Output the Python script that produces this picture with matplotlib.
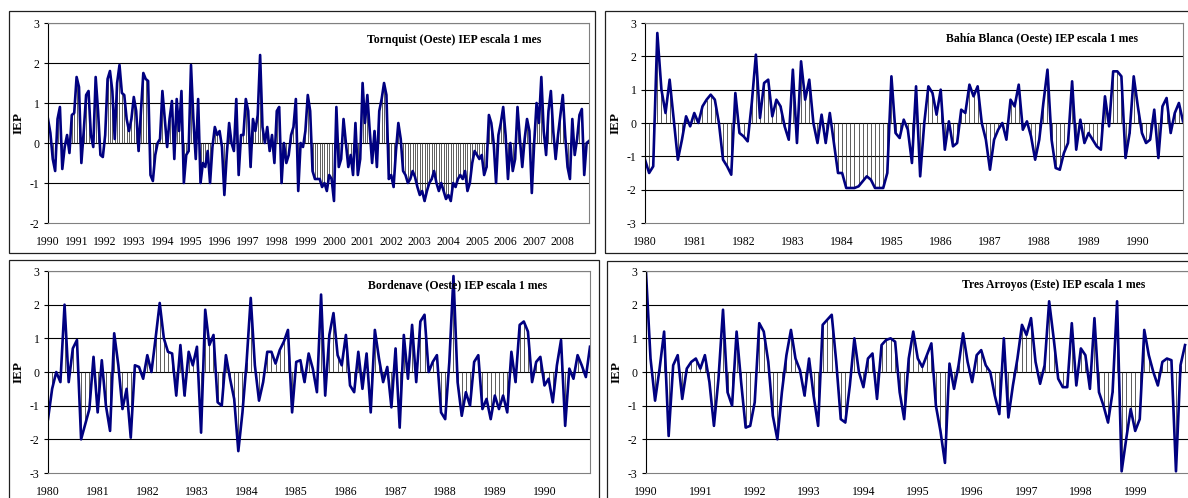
import numpy as np
import matplotlib
matplotlib.use("Agg")
import matplotlib.pyplot as plt
from matplotlib.patches import Rectangle

plt.rcParams['font.family'] = ['Liberation Serif', 'DejaVu Serif']
plt.rcParams['axes.unicode_minus'] = False

W, H = 1188, 498

# IEP escala 1 mes, valores mensuales (ene-dic por fila)
tornquist = [
    0.6, 0.25, -0.4, -0.7, 0.6, 0.9, -0.65, -0.1, 0.2, -0.25, 0.7, 0.75,      # 1990
    1.65, 1.4, -0.5, 0.3, 1.2, 1.3, 0.2, -0.1, 1.65, 0.8, -0.3, -0.35,        # 1991
    0.2, 1.6, 1.8, 1.3, 0.1, 1.5, 1.95, 1.25, 1.2, 0.6, 0.3, 0.6,             # 1992
    1.15, 0.8, -0.2, 0.8, 1.75, 1.6, 1.55, -0.8, -0.95, -0.3, 0.0, 0.1,       # 1993
    1.3, 0.6, -0.1, 0.6, 1.05, -0.4, 1.1, 0.3, 1.3, -1.0, -0.3, -0.2,         # 1994
    1.95, 0.6, -0.4, 1.1, -1.0, -0.5, -0.6, -0.2, -1.0, -0.1, 0.4, 0.2,       # 1995
    0.3, -0.1, -1.3, -0.3, 0.5, 0.0, -0.2, 1.1, -0.8, 0.2, 0.2, 1.1,          # 1996
    0.8, -0.6, 0.6, 0.3, 0.7, 2.2, 0.4, 0.0, 0.4, -0.2, 0.2, -0.5,            # 1997
    0.8, 0.9, -1.0, 0.0, -0.5, -0.3, 0.2, 0.4, 1.1, -1.2, 0.0, -0.1,          # 1998
    0.3, 1.2, 0.8, -0.7, -0.9, -0.9, -0.9, -1.1, -1.0, -1.2, -0.8, -0.9,      # 1999
    -1.45, 0.9, -0.6, -0.4, 0.6, 0.0, -0.6, -0.3, -0.8, 0.5, -0.8, -0.4,      # 2000
    1.5, 0.5, 1.2, 0.3, -0.5, 0.3, -0.6, 0.8, 1.1, 1.5, 1.2, -0.9,            # 2001
    -0.8, -1.1, -0.2, 0.5, 0.1, -0.7, -0.8, -1.0, -0.9, -0.7, -0.85, -1.1,    # 2002
    -1.3, -1.2, -1.45, -1.2, -1.0, -0.9, -0.7, -1.0, -1.2, -1.0, -1.2, -1.4,  # 2003
    -1.3, -1.45, -1.0, -1.1, -0.9, -0.8, -0.9, -0.7, -1.2, -1.0, -0.5, -0.2,  # 2004
    -0.3, -0.4, -0.3, -0.8, -0.6, 0.7, 0.5, 0.0, -1.0, 0.2, 0.5, 0.9,         # 2005
    0.2, -0.9, 0.0, -0.7, -0.4, 0.9, 0.1, -0.6, 0.1, 0.6, 0.3, -1.25,         # 2006
    0.0, 1.0, 0.5, 1.65, 0.3, -0.3, 0.8, 1.3, 0.3, -0.4, 0.2, 0.7,           # 2007
    1.2, 0.2, -0.6, -0.9, 0.6, -0.3, 0.1, 0.7, 0.85, -0.8, 0.0, 0.05,         # 2008
]

bahia_blanca = [
    -1.1, -1.5, -1.3, 2.7, 1.0, 0.3, 1.3, 0.1, -1.1, -0.5, 0.2, -0.1,         # 1980
    0.3, 0.0, 0.5, 0.7, 0.85, 0.7, 0.0, -1.1, -1.3, -1.55, 0.9, -0.3,         # 1981
    -0.4, -0.55, 0.6, 2.05, 0.15, 1.2, 1.3, 0.2, 0.7, 0.5, -0.1, -0.5,        # 1982
    1.6, -0.6, 1.85, 0.7, 1.3, 0.0, -0.6, 0.25, -0.6, 0.3, -0.6, -1.5,        # 1983
    -1.5, -1.95, -1.95, -1.95, -1.9, -1.75, -1.6, -1.7, -1.95, -1.95, -1.95, -1.5,  # 1984
    1.4, -0.3, -0.45, 0.1, -0.2, -1.2, 1.1, -1.6, 0.0, 1.1, 0.9, 0.25,        # 1985
    1.0, -0.8, 0.05, -0.7, -0.6, 0.4, 0.3, 1.15, 0.8, 1.1, 0.0, -0.5,         # 1986
    -1.4, -0.5, -0.2, 0.0, -0.5, 0.7, 0.5, 1.15, -0.2, 0.05, -0.4, -1.1,      # 1987
    -0.5, 0.6, 1.6, -0.5, -1.35, -1.4, -0.9, -0.6, 1.25, -0.8, 0.1, -0.6,     # 1988
    -0.3, -0.5, -0.7, -0.8, 0.8, -0.1, 1.55, 1.55, 1.4, -1.05, -0.3, 1.4,     # 1989
    0.5, -0.3, -0.6, -0.5, 0.4, -1.05, 0.5, 0.75, -0.3, 0.3, 0.6, 0.05,       # 1990
]

bordenave = [
    -1.4, -0.5, 0.0, -0.3, 2.0, -0.3, 0.7, 0.95, -2.0, -1.55, -1.1, 0.45,     # 1980
    -1.2, 0.35, -1.0, -1.75, 1.15, 0.2, -1.1, -0.5, -1.95, 0.2, 0.15, -0.2,   # 1981
    0.5, 0.0, 1.0, 2.05, 1.0, 0.6, 0.55, -0.7, 0.8, -0.7, 0.6, 0.2,           # 1982
    0.75, -1.8, 1.85, 0.8, 1.1, -0.9, -1.0, 0.5, -0.2, -0.8, -2.35, -1.2,     # 1983
    0.3, 2.2, 0.2, -0.85, -0.3, 0.6, 0.6, 0.25, 0.65, 0.9, 1.25, -1.2,        # 1984
    0.3, 0.35, -0.3, 0.55, 0.1, -0.6, 2.3, -0.7, 1.1, 1.75, 0.5, 0.2,         # 1985
    1.1, -0.4, -0.6, 0.6, -0.5, 0.55, -1.2, 1.25, 0.4, -0.3, 0.15, -1.05,     # 1986
    0.7, -1.65, 1.1, -0.2, 1.4, -0.3, 1.5, 1.7, 0.0, 0.3, 0.5, -1.2,          # 1987
    -1.4, 0.3, 2.85, -0.3, -1.3, -0.6, -1.0, 0.3, 0.5, -1.1, -0.8, -1.4,      # 1988
    -0.7, -1.1, -0.7, -1.2, 0.6, -0.3, 1.4, 1.5, 1.2, -0.3, 0.3, 0.45,        # 1989
    -0.4, -0.2, -0.9, 0.2, 0.95, -1.6, 0.1, -0.2, 0.5, 0.2, -0.15, 0.75,      # 1990
]

tres_arroyos = [
    2.95, 0.4, -0.85, 0.1, 1.2, -1.9, 0.2, 0.5, -0.8, 0.1, 0.3, 0.4,          # 1990
    0.1, 0.5, -0.3, -1.6, -0.2, 1.85, -0.6, -1.0, 1.2, -0.3, -1.65, -1.6,     # 1991
    -0.9, 1.45, 1.2, 0.3, -1.3, -2.0, -0.6, 0.5, 1.25, 0.4, 0.05, -0.7,       # 1992
    0.4, -0.7, -1.6, 1.4, 1.55, 1.7, 0.3, -1.4, -1.5, -0.4, 1.0, 0.0,         # 1993
    -0.45, 0.4, 0.55, -0.8, 0.8, 0.95, 1.0, 0.9, -0.6, -1.4, 0.4, 1.2,        # 1994
    0.4, 0.15, 0.5, 0.85, -1.0, -1.75, -2.7, 0.25, -0.5, 0.2, 1.15, 0.3,      # 1995
    -0.3, 0.5, 0.65, 0.2, 0.0, -0.7, -1.25, 1.0, -1.35, -0.4, 0.4, 1.4,       # 1996
    1.1, 1.6, 0.3, -0.35, 0.2, 2.1, 1.0, -0.2, -0.45, -0.45, 1.45, -0.4,      # 1997
    0.7, 0.5, -0.5, 1.6, -0.6, -1.0, -1.5, -0.6, 2.1, -2.95, -2.0, -1.1,      # 1998
    -1.75, -1.4, 1.25, 0.5, 0.0, -0.4, 0.3, 0.4, 0.35, -2.95, 0.2, 0.8,       # 1999
]

titles = [
    "Tornquist (Oeste) IEP escala 1 mes",
    "Bahía Blanca (Oeste) IEP escala 1 mes",
    "Bordenave (Oeste) IEP escala 1 mes",
    "Tres Arroyos (Este) IEP escala 1 mes",
]
first_years = [1990, 1980, 1980, 1990]
series = [tornquist, bahia_blanca, bordenave, tres_arroyos]

# cajas en pixeles: (izq, der, arriba, abajo)
plot_boxes = [(48, 589, 23, 223), (645, 1183, 23, 223),
              (48, 590, 271, 473), (646, 1195, 271, 473)]
frame_boxes = [(9, 595, 11, 253), (605, 1200, 11, 253),
               (9, 599, 260, 505), (607, 1200, 261, 505)]
ylims = [(-2, 3), (-3, 3), (-3, 3), (-3, 3)]
title_pos = [(367, 40), (946, 38), (368, 285), (962, 285)]
xmax = [227, 131, 131, 121.2]

fig = plt.figure(figsize=(W / 100, H / 100), dpi=100)
fig.patch.set_facecolor("white")


def caja(l, r, t, b):
    return [l / W, 1 - b / H, (r - l) / W, (b - t) / H]


for k in range(4):
    l, r, t, b = frame_boxes[k]
    fig.add_artist(Rectangle((l / W, 1 - b / H), (r - l) / W, (b - t) / H,
                             transform=fig.transFigure, fill=False,
                             edgecolor="#202020", linewidth=0.9))

    ax = fig.add_axes(caja(*plot_boxes[k]))
    y = np.array(series[k])
    x = np.arange(len(y))

    ax.vlines(x, 0, y, color="#303030", linewidth=0.55)
    ax.plot(x, y, color="#000080", linewidth=1.9, solid_joinstyle="round")

    lo, hi = ylims[k]
    ax.set_ylim(lo, hi)
    ax.set_xlim(0, xmax[k])
    for v in range(lo + 1, hi + 1):
        ax.axhline(v, color="black", linewidth=0.8, zorder=0)

    ax.set_yticks(range(lo, hi + 1))
    ax.tick_params(axis="y", direction="out", length=3, width=0.8,
                   labelsize=8.5, pad=3)
    nyears = len(y) // 12
    ax.set_xticks(range(0, len(y), 12))
    ax.set_xticklabels([str(first_years[k] + j) for j in range(nyears)])
    ax.tick_params(axis="x", length=0, labelsize=8.5, pad=9)

    for side in ["top", "right", "bottom"]:
        ax.spines[side].set_color("#808080")
    ax.spines["left"].set_color("black")

    # rotulo del eje y
    yl = (plot_boxes[k][2] + plot_boxes[k][3]) / 2
    fig.text((plot_boxes[k][0] - 29) / W, 1 - yl / H, "IEP", rotation=90,
             ha="center", va="center", fontsize=9.5, fontweight="bold")

    tx, ty = title_pos[k]
    fig.text(tx / W, 1 - ty / H, titles[k], ha="left", va="center",
             fontsize=8.5, fontweight="bold")

fig.savefig("out.png", dpi=100)
